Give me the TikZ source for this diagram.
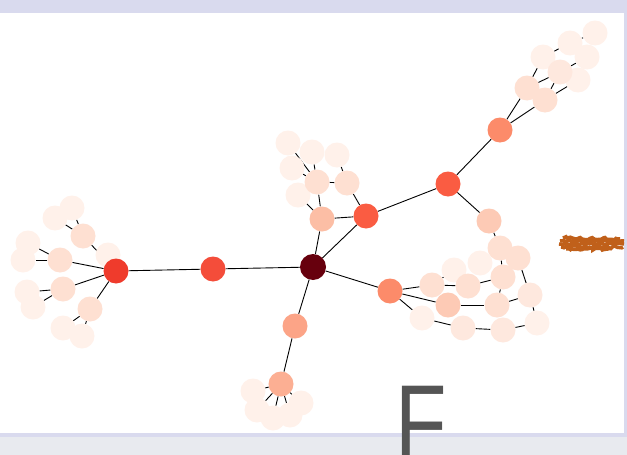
\documentclass[tikz,border=0pt]{standalone}
\usepackage{fontspec}
\setmainfont{Liberation Sans}
\usetikzlibrary{decorations.pathmorphing}

\definecolor{frame}{HTML}{D9DAEE}
\definecolor{strip}{HTML}{E8EAEF}
\definecolor{hubred}{HTML}{67000D}
\definecolor{redA}{HTML}{EF3B2C}
\definecolor{redB}{HTML}{F44D3A}
\definecolor{redC}{HTML}{FA5C42}
\definecolor{salmon}{HTML}{FC8B6A}
\definecolor{roseA}{HTML}{FCA487}
\definecolor{roseB}{HTML}{FCAF93}
\definecolor{peachA}{HTML}{FCBEA5}
\definecolor{peachB}{HTML}{FDCAB5}
\definecolor{peachC}{HTML}{FEE0D2}
\definecolor{peachD}{HTML}{FEE8DE}
\definecolor{pale}{HTML}{FFF1EA}
\definecolor{rust}{HTML}{C0601A}
\definecolor{letter}{HTML}{555555}

\pgfdeclarelayer{panel}
\pgfdeclarelayer{edges}
\pgfsetlayers{panel,edges,main}

\begin{document}
\begin{tikzpicture}[
  x=1pt, y=-1pt,
  vtx/.style={circle, inner sep=0pt, minimum size=25pt},
  link/.style={draw=black, line width=0.9pt},
  scrib/.style={draw=rust, line width=3.5pt, decorate, decoration={random steps, segment length=2pt, amplitude=1.3pt}}
]
\useasboundingbox (0,0) rectangle (627,455);
\clip (0,0) rectangle (627,455);

\begin{pgfonlayer}{panel}
\fill[frame] (0,0) rectangle (627,455);
\fill[white] (0,13) rectangle (624,433);
\fill[strip] (0,437) rectangle (627,455);
\end{pgfonlayer}

% leaves
\node[vtx, fill=pale] (l2a) at (72,208) {};
\node[vtx, fill=pale] (l2b) at (55,218) {};
\node[vtx, fill=pale] (l3a) at (28,243) {};
\node[vtx, fill=pale] (l3b) at (23,260) {};
\node[vtx, fill=pale] (l4a) at (27,292) {};
\node[vtx, fill=pale] (l4b) at (33,307) {};
\node[vtx, fill=pale] (l5a) at (63,328) {};
\node[vtx, fill=pale] (l5b) at (82,336) {};
\node[vtx, fill=pale] (l1) at (108,255) {};
\node[vtx, fill=pale] (k1a) at (288,143) {};
\node[vtx, fill=pale] (k1b) at (312,152) {};
\node[vtx, fill=pale] (k2a) at (337,155) {};
\node[vtx, fill=pale] (k1c) at (292,168) {};
\node[vtx, fill=pale] (k3) at (298,195) {};
\node[vtx, fill=pale] (t8) at (595,33) {};
\node[vtx, fill=pale] (t5) at (570,43) {};
\node[vtx, fill=pale] (t3) at (543,57) {};
\node[vtx, fill=pale] (t6) at (587,57) {};
\node[vtx, fill=pale] (t7) at (578,80) {};
\node[vtx, fill=pale] (b1) at (253,391) {};
\node[vtx, fill=pale] (b2) at (257,410) {};
\node[vtx, fill=pale] (b3) at (273,418) {};
\node[vtx, fill=pale] (b4) at (290,415) {};
\node[vtx, fill=pale] (b5) at (301,403) {};
\node[vtx, fill=pale] (r6) at (454,270) {};
\node[vtx, fill=pale] (r7) at (480,263) {};
\node[vtx, fill=pale] (r3) at (422,318) {};
\node[vtx, fill=pale] (r14) at (537,323) {};
\node[vtx, fill=peachD] (r4) at (463,328) {};
\node[vtx, fill=peachD] (r13) at (503,330) {};
\node[vtx, fill=peachD] (r12) at (530,295) {};
\node[vtx, fill=peachD] (t4) at (560,72) {};

% inner ring
\node[vtx, fill=peachC] (l2) at (83,236) {};
\node[vtx, fill=peachC] (l3) at (60,260) {};
\node[vtx, fill=peachC] (l4) at (63,289) {};
\node[vtx, fill=peachC] (l5) at (90,309) {};
\node[vtx, fill=peachC] (k1) at (317,182) {};
\node[vtx, fill=peachC] (k2) at (347,183) {};
\node[vtx, fill=peachC] (t1) at (527,88) {};
\node[vtx, fill=peachC] (t2) at (545,100) {};
\node[vtx, fill=peachC] (r9) at (500,248) {};
\node[vtx, fill=peachC] (r10) at (518,258) {};
\node[vtx, fill=peachC] (r8) at (503,277) {};
\node[vtx, fill=peachC] (r5) at (468,286) {};
\node[vtx, fill=peachC] (r1) at (432,285) {};
\node[vtx, fill=peachC] (r11) at (497,305) {};
\node[vtx, fill=peachB] (r2) at (448,305) {};

% trunk
\node[vtx, fill=peachB] (drop) at (489,221) {};
\node[vtx, fill=peachA] (knot) at (322,219) {};
\node[vtx, fill=roseB] (root) at (281,384) {};
\node[vtx, fill=roseA] (stem) at (295,326) {};
\node[vtx, fill=salmon] (loop) at (390,291) {};
\node[vtx, fill=salmon] (tip) at (500,130) {};
\node[vtx, fill=redC] (fork) at (448,184) {};
\node[vtx, fill=redC] (cross) at (366,216) {};
\node[vtx, fill=redB] (mid) at (213,269) {};
\node[vtx, fill=redA] (lhub) at (116,271) {};
\node[vtx, fill=hubred, minimum size=26pt] (hub) at (313,267) {};

\begin{pgfonlayer}{edges}
\draw[link] (hub) -- (mid);
\draw[link] (mid) -- (lhub);
\draw[link] (lhub) -- (l1);
\draw[link] (lhub) -- (l2);
\draw[link] (lhub) -- (l3);
\draw[link] (lhub) -- (l4);
\draw[link] (lhub) -- (l5);
\draw[link] (l2) -- (l2a);
\draw[link] (l2) -- (l2b);
\draw[link] (l3) -- (l3a);
\draw[link] (l3) -- (l3b);
\draw[link] (l4) -- (l4a);
\draw[link] (l4) -- (l4b);
\draw[link] (l5) -- (l5a);
\draw[link] (l5) -- (l5b);
\draw[link] (hub) -- (knot);
\draw[link] (hub) -- (cross);
\draw[link] (knot) -- (cross);
\draw[link] (knot) -- (k1);
\draw[link] (knot) -- (k3);
\draw[link] (k1) -- (k2);
\draw[link] (k2) -- (cross);
\draw[link] (k1) -- (k1a);
\draw[link] (k1) -- (k1b);
\draw[link] (k1) -- (k1c);
\draw[link] (k2) -- (k2a);
\draw[link] (cross) -- (fork);
\draw[link] (fork) -- (tip);
\draw[link] (fork) -- (drop);
\draw[link] (tip) -- (t1);
\draw[link] (tip) -- (t2);
\draw[link] (t1) -- (t3);
\draw[link] (t1) -- (t4);
\draw[link] (t2) -- (t4);
\draw[link] (t2) -- (t7);
\draw[link] (t3) -- (t5);
\draw[link] (t4) -- (t6);
\draw[link] (t5) -- (t8);
\draw[link] (drop) -- (r9);
\draw[link] (r9) -- (r8);
\draw[link] (r9) -- (r10);
\draw[link] (hub) -- (loop);
\draw[link] (loop) -- (r1);
\draw[link] (loop) -- (r2);
\draw[link] (loop) -- (r3);
\draw[link] (r1) -- (r5);
\draw[link] (r1) -- (r6);
\draw[link] (r5) -- (r8);
\draw[link] (r8) -- (r11);
\draw[link] (r2) -- (r11);
\draw[link] (r11) -- (r12);
\draw[link] (r12) -- (r10);
\draw[link] (r12) -- (r14);
\draw[link] (r3) -- (r4);
\draw[link] (r4) -- (r13);
\draw[link] (r13) -- (r14);
\draw[link] (hub) -- (stem);
\draw[link] (stem) -- (root);
\draw[link] (root) -- (b1);
\draw[link] (root) -- (b2);
\draw[link] (root) -- (b3);
\draw[link] (root) -- (b4);
\draw[link] (root) -- (b5);
\end{pgfonlayer}

\draw[scrib] (563,238) -- (620,239);
\draw[scrib] (560,241) -- (624,241);
\draw[scrib] (559,244) -- (624,244);
\draw[scrib] (561,247) -- (623,247);
\draw[scrib] (566,249) -- (612,249);

\node[anchor=base west, inner sep=0pt, text=letter, font=\fontsize{108}{108}\selectfont] (bigF) at (395,460) {\scalebox{0.78}[1]{F}};
\end{tikzpicture}
\end{document}
